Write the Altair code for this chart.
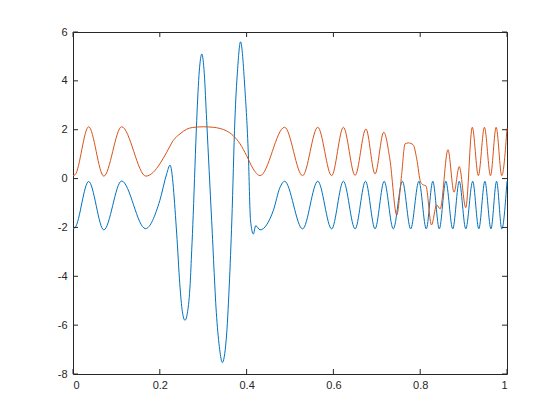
import altair as alt
import pandas as pd

# Series 1 (blue)
blue_x = [0.000, 0.005, 0.036, 0.071, 0.112, 0.167, 0.200, 0.216, 0.2235, 0.239,
          0.246, 0.252, 0.258, 0.264, 0.270, 0.2735, 0.277, 0.281, 0.285, 0.291,
          0.2968, 0.3025, 0.308, 0.3195, 0.331, 0.338, 0.344, 0.353, 0.360, 0.366,
          0.373, 0.379, 0.386, 0.396, 0.404, 0.409, 0.4155, 0.421, 0.431, 0.4615,
          0.477, 0.4875, 0.529, 0.564, 0.596, 0.623, 0.650, 0.674, 0.696, 0.717,
          0.738, 0.759, 0.778, 0.797, 0.814, 0.829, 0.844, 0.859, 0.875, 0.890,
          0.905, 0.921, 0.935, 0.949, 0.963, 0.976, 0.988, 1.000]
blue_y = [-2.05, -2.0, -0.12, -2.1, -0.1, -2.05, -0.9, 0.2, 0.55, -2.27,
          -4.3, -5.45, -5.8, -5.45, -4.3, -2.95, -1.5, 0.5, 2.37, 4.4,
          5.1, 4.3, 2.37, -1.72, -5.68, -7.0, -7.53, -6.6, -4.4, -1.7,
          2.4, 4.4, 5.6, 3.7, 1.0, -1.7, -2.27, -1.93, -2.1, -1.31,
          -0.36, -0.11, -2.06, -0.11, -2.06, -0.11, -2.06, -0.11, -2.06, -0.11,
          -2.06, -0.11, -2.06, -0.11, -2.06, -0.11, -2.06, -0.11, -2.06, -0.11,
          -2.06, -0.11, -2.06, -0.11, -2.06, -0.11, -2.06, -0.11]

# Series 2 (orange)
orange_x = [0.000, 0.005, 0.036, 0.071, 0.112, 0.168, 0.185, 0.200, 0.216, 0.231,
            0.2465, 0.262, 0.275, 0.300, 0.323, 0.339, 0.354, 0.369, 0.385, 0.400,
            0.415, 0.431, 0.4875, 0.529, 0.564, 0.596, 0.623, 0.650, 0.675, 0.696,
            0.716, 0.730, 0.746, 0.757, 0.765, 0.773, 0.784, 0.792, 0.801, 0.807,
            0.813, 0.826, 0.838, 0.846, 0.864, 0.878, 0.890, 0.905, 0.920, 0.934,
            0.948, 0.962, 0.975, 0.988, 1.000]
orange_y = [0.12, 0.16, 2.12, 0.1, 2.12, 0.1, 0.26, 0.6, 1.08, 1.56,
            1.83, 2.02, 2.09, 2.12, 2.1, 2.05, 1.95, 1.76, 1.42, 0.94,
            0.40, 0.12, 2.1, 0.12, 2.1, 0.12, 2.1, 0.13, 2.03, 0.19,
            1.9, 0.81, -1.49, 0.12, 1.42, 1.46, 1.38, 0.81, -0.15, -0.26,
            -0.29, -1.9, -1.08, -1.24, 1.18, -0.56, 0.49, -1.19, 2.1, 0.12,
            2.1, 0.12, 2.1, 0.12, 2.05]

x_ticks = [0, 0.2, 0.4, 0.6, 0.8, 1]
y_ticks = [-8, -6, -4, -2, 0, 2, 4, 6]

W, H = 434, 342
TICK = 5
AX = "#262626"

df = pd.concat([
    pd.DataFrame({"x": blue_x, "y": blue_y, "s": "s1"}),
    pd.DataFrame({"x": orange_x, "y": orange_y, "s": "s2"}),
])

xs = alt.Scale(domain=[0, 1], nice=False, zero=False)
ys = alt.Scale(domain=[-8, 6], nice=False, zero=False)
x_axis = alt.Axis(values=x_ticks, format="~g", ticks=False, domain=False, grid=False,
                  labelPadding=5, title=None)
y_axis = alt.Axis(values=y_ticks, ticks=False, domain=False, grid=False,
                  labelPadding=6, title=None, labelExpr="'' + datum.value")

lines = alt.Chart(df).mark_line(interpolate="monotone", strokeWidth=1).encode(
    x=alt.X("x:Q", scale=xs, axis=x_axis),
    y=alt.Y("y:Q", scale=ys, axis=y_axis),
    color=alt.Color("s:N", scale=alt.Scale(domain=["s1", "s2"], range=["#0072BD", "#D95319"]),
                    legend=None),
)

xt = alt.Chart(pd.DataFrame({"t": x_ticks}))
yt = alt.Chart(pd.DataFrame({"t": y_ticks}))

xt_bottom = xt.mark_rule(color=AX, strokeWidth=1).encode(
    x=alt.X("t:Q", scale=xs, axis=x_axis), y=alt.value(H), y2=alt.value(H - TICK))
xt_top = xt.mark_rule(color=AX, strokeWidth=1).encode(
    x=alt.X("t:Q", scale=xs, axis=x_axis), y=alt.value(0), y2=alt.value(TICK))
yt_left = yt.mark_rule(color=AX, strokeWidth=1).encode(
    y=alt.Y("t:Q", scale=ys, axis=y_axis), x=alt.value(0), x2=alt.value(TICK))
yt_right = yt.mark_rule(color=AX, strokeWidth=1).encode(
    y=alt.Y("t:Q", scale=ys, axis=y_axis), x=alt.value(W), x2=alt.value(W - TICK))

chart = alt.layer(lines, xt_bottom, xt_top, yt_left, yt_right).properties(
    width=W, height=H,
    padding={"left": 65, "top": 24, "right": 45, "bottom": 38},
    autosize=alt.AutoSizeParams(type="none"),
    background="white",
).configure_axis(
    labelFont="Liberation Sans", labelFontSize=11, labelColor=AX,
).configure_view(
    stroke=AX, strokeWidth=1,
)

chart.save("out.html", embed_options={"renderer": "svg", "actions": False})
